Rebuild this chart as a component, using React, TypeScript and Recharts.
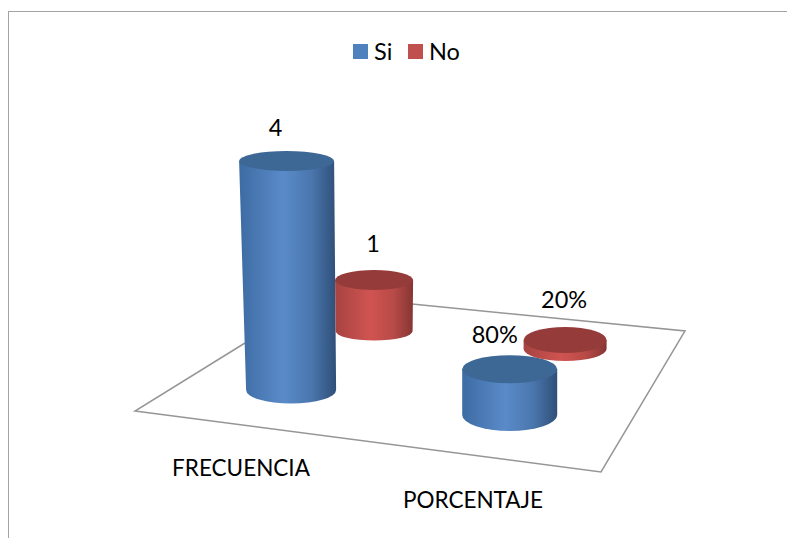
import { Bar, BarChart, LabelList, Legend, XAxis, YAxis } from "recharts"

const categories = ["FRECUENCIA", "PORCENTAJE"]
const siValues = [4, 0.8]
const noValues = [1, 0.2]
const valueLabels = (value: number, index: number) => (index === 1 ? `${Math.round(value * 100)}%` : `${value}`)

const data = categories.map((name, i) => ({ name, Si: siValues[i], No: noValues[i] }))

const FONT = "Lato, sans-serif"

// fake 3D: where each cylinder sits on the floor relative to its flat bar slot
const placement: Record<string, any[]> = {
  Si: [
    { dx: -10, topDx: -4.5, dy: 0, scale: 1, rxTop: 47.5, rxBottom: 45, ryTop: 10, ryBottom: 13.5, labelDx: -11, labelDy: -34 },
    { dx: -14.4, topDx: 0, dy: 25, scale: 1, rxTop: 47.5, rxBottom: 47.5, ryTop: 14, ryBottom: 16, labelDx: -15, labelDy: -35 },
  ],
  No: [
    { dx: 6, topDx: 0, dy: -59, scale: 0.89, rxTop: 39, rxBottom: 38.5, ryTop: 10, ryBottom: 9.5, labelDx: -1, labelDy: -37 },
    { dx: -26, topDx: 0, dy: -41, scale: 0.79, rxTop: 41.5, rxBottom: 41.5, ryTop: 13, ryBottom: 12, labelDx: -1, labelDy: -41 },
  ],
}

const tickOffsets = [
  { dx: -93.5, y: 467 },
  { dx: -84.5, y: 499 },
]

const floorEdges = "M245 343 L135 411 L601 472 L685 331 L412 304"

function Cylinder(props: any) {
  const { x, y, width, height, index, dataKey, fill } = props
  const p = placement[dataKey][index]
  const baseY = y + height + p.dy
  const topY = baseY - height * p.scale
  const cxBottom = x + width / 2 + p.dx
  const cxTop = cxBottom + p.topDx
  const body = [
    `M${cxTop - p.rxTop} ${topY}`,
    `L${cxBottom - p.rxBottom} ${baseY}`,
    `A${p.rxBottom} ${p.ryBottom} 0 0 0 ${cxBottom + p.rxBottom} ${baseY}`,
    `L${cxTop + p.rxTop} ${topY}`,
    "Z",
  ].join(" ")
  return (
    <g>
      <path d={body} fill={`url(#side${dataKey})`} />
      <ellipse cx={cxTop} cy={topY} rx={p.rxTop} ry={p.ryTop} fill={fill === "#4f81bd" ? "#3d6896" : "#953c3a"} />
    </g>
  )
}

function ValueLabel(props: any, key: string) {
  const { x, y, width, height, value, index } = props
  const p = placement[key][index]
  const topY = y + height + p.dy - height * p.scale
  return (
    <text
      x={x + width / 2 + p.dx + p.topDx + p.labelDx}
      y={topY + p.labelDy}
      textAnchor="middle"
      dominantBaseline="central"
      fontFamily={FONT}
      fontSize={23.5}
      fill="#000"
    >
      {valueLabels(value, index)}
    </text>
  )
}

function CategoryTick(props: any) {
  const { x, payload, index } = props
  const t = tickOffsets[index]
  return (
    <text x={x + t.dx} y={t.y} textAnchor="middle" dominantBaseline="central" fontFamily={FONT} fontSize={22.5} fill="#000">
      {payload.value}
    </text>
  )
}

function LegendRow() {
  return (
    <div style={{ position: "relative", height: 30 }}>
      {["Si", "No"].map((name, i) => (
        <div key={name} style={{ position: "absolute", left: i === 0 ? 353 : 408, top: 0, display: "flex", alignItems: "center", height: 30 }}>
          <span style={{ width: 15, height: 15, marginRight: 6, background: i === 0 ? "#4f81bd" : "#c0504d" }} />
          <span style={{ color: "#000", fontFamily: FONT, fontSize: 23.5 }}>{name}</span>
        </div>
      ))}
    </div>
  )
}

export default function App() {
  return (
    <div
      style={{
        position: "absolute",
        left: 0,
        top: 0,
        width: 787,
        height: 538,
        background: "#fff",
        overflow: "hidden",
      }}
    >
      <div
        style={{
          position: "absolute",
          left: 7.5,
          top: 11,
          width: 800,
          height: 560,
          border: "1.5px solid #a3a3a3",
        }}
      />
      <BarChart
        width={787}
        height={538}
        data={data}
        barCategoryGap="20%"
        barGap={0}
        margin={{ top: 131, right: 118, bottom: 118, left: 223 }}
        style={{ position: "absolute", left: 0, top: 0 }}
      >
        <defs>
          <linearGradient id="sideSi" x1="0" x2="1" y1="0" y2="0">
            <stop offset="0%" stopColor="#3d6ba3" />
            <stop offset="45%" stopColor="#5a8bc9" />
            <stop offset="75%" stopColor="#4a76ad" />
            <stop offset="100%" stopColor="#2f4f78" />
          </linearGradient>
          <linearGradient id="sideNo" x1="0" x2="1" y1="0" y2="0">
            <stop offset="0%" stopColor="#a64341" />
            <stop offset="45%" stopColor="#d05451" />
            <stop offset="75%" stopColor="#b84a47" />
            <stop offset="100%" stopColor="#853634" />
          </linearGradient>
        </defs>
        <path d={floorEdges} fill="none" stroke="#969696" strokeWidth={1.5} />
        <XAxis dataKey="name" height={30} axisLine={false} tickLine={false} tick={<CategoryTick />} interval={0} />
        <YAxis hide domain={[0, 4]} />
        <Legend
          verticalAlign="top"
          content={<LegendRow />}
          wrapperStyle={{ left: 0, top: 36, width: 787, height: 30 }}
        />
        <Bar dataKey="Si" fill="#4f81bd" isAnimationActive={false} shape={<Cylinder />}>
          <LabelList dataKey="Si" content={(p: any) => ValueLabel(p, "Si")} />
        </Bar>
        <Bar dataKey="No" fill="#c0504d" isAnimationActive={false} shape={<Cylinder />}>
          <LabelList dataKey="No" content={(p: any) => ValueLabel(p, "No")} />
        </Bar>
      </BarChart>
    </div>
  )
}
